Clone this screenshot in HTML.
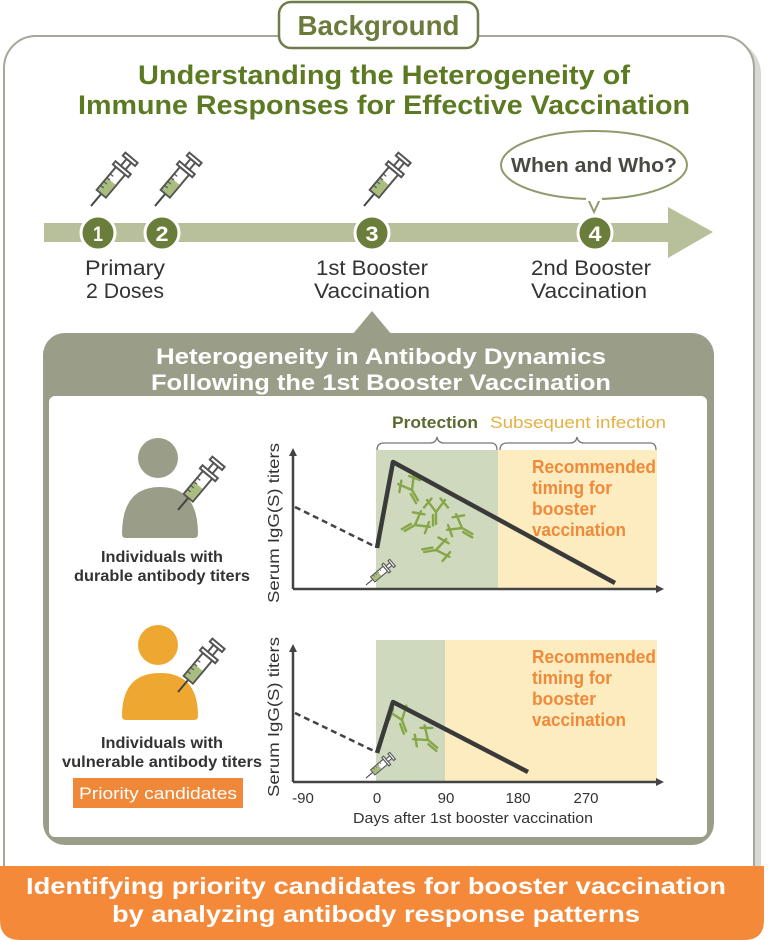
<!DOCTYPE html>
<html><head><meta charset="utf-8"><style>
html,body{margin:0;padding:0;background:#fff;}
svg{display:block;}
text{font-family:"Liberation Sans Narrow","Liberation Sans",sans-serif;}
</style></head><body>
<svg width="768" height="940" viewBox="0 0 768 940" xmlns="http://www.w3.org/2000/svg">
<defs>
  <g id="syr">
    <line x1="0" y1="0" x2="16" y2="0" stroke="#444" stroke-width="2"/>
    <rect x="16" y="-6" width="30" height="12" fill="#fff" stroke="#555" stroke-width="2"/>
    <rect x="17" y="-5" width="15" height="10" fill="#a9bd7e"/>
    <line x1="22" y1="-6" x2="22" y2="-2" stroke="#555" stroke-width="1.2"/>
    <line x1="27" y1="-6" x2="27" y2="-2" stroke="#555" stroke-width="1.2"/>
    <line x1="32" y1="-6" x2="32" y2="-2" stroke="#555" stroke-width="1.2"/>
    <line x1="37" y1="-6" x2="37" y2="-2" stroke="#555" stroke-width="1.2"/>
    <rect x="46" y="-10" width="4" height="20" fill="#fff" stroke="#555" stroke-width="2"/>
    <rect x="50" y="-3" width="9" height="6" fill="#fff" stroke="#555" stroke-width="2"/>
    <rect x="59" y="-8" width="4" height="16" fill="#fff" stroke="#555" stroke-width="2"/>
  </g>
  <g id="ab" fill="none" stroke="#86a648" stroke-width="1.6" stroke-linecap="round">
    <path d="M0 8 L0 0 L-6 -8 M0 0 L6 -8 M-3 -9 L-8 -3 M3 -9 L8 -3 M-2 9 L-2 2"/>
  </g>
</defs>

<rect x="9" y="40" width="752" height="895" rx="34" fill="#d8d8d4"/>
<rect x="4" y="36" width="750" height="895" rx="32" fill="#fff" stroke="#a4a89a" stroke-width="2"/>

<rect x="279" y="2" width="199" height="46" rx="12" fill="#fff" stroke="#6f7d4a" stroke-width="2.5"/>
<text x="378.5" y="35" text-anchor="middle" font-size="28" font-weight="bold" fill="#6b7b3c" textLength="162" lengthAdjust="spacingAndGlyphs">Background</text>

<text x="384" y="84" text-anchor="middle" font-size="27" font-weight="bold" fill="#5b7a22" textLength="492" lengthAdjust="spacingAndGlyphs">Understanding the Heterogeneity of</text>
<text x="384" y="114" text-anchor="middle" font-size="27" font-weight="bold" fill="#5b7a22" textLength="612" lengthAdjust="spacingAndGlyphs">Immune Responses for Effective Vaccination</text>

<rect x="44" y="223" width="630" height="19" fill="#b7bf9b"/>
<polygon points="668,207 713,232 668,258" fill="#b7bf9b"/>

<use href="#syr" transform="translate(91,206) rotate(-50)"/>
<use href="#syr" transform="translate(155,206) rotate(-50)"/>
<use href="#syr" transform="translate(364,206) rotate(-50)"/>

<path d="M588 199 L594 212 L600 199" fill="#fff" stroke="#8e9a6c" stroke-width="2"/>
<ellipse cx="594" cy="165" rx="93" ry="34" fill="#fff" stroke="#8e9a6c" stroke-width="2"/>
<rect x="586" y="195" width="16" height="6" fill="#fff"/>
<text x="594" y="172" text-anchor="middle" font-size="20" font-weight="bold" fill="#4a4a42" textLength="166" lengthAdjust="spacingAndGlyphs">When and Who?</text>

<g font-size="21" font-weight="bold" fill="#fff" text-anchor="middle">
  <circle cx="98" cy="233" r="17" fill="#6b7d3a" stroke="#fff" stroke-width="3"/><text x="98" y="241" textLength="10" lengthAdjust="spacingAndGlyphs">1</text>
  <circle cx="162" cy="233" r="17" fill="#6b7d3a" stroke="#fff" stroke-width="3"/><text x="162" y="241" textLength="13" lengthAdjust="spacingAndGlyphs">2</text>
  <circle cx="372" cy="233" r="17" fill="#6b7d3a" stroke="#fff" stroke-width="3"/><text x="372" y="241" textLength="13" lengthAdjust="spacingAndGlyphs">3</text>
  <circle cx="595" cy="233" r="17" fill="#6b7d3a" stroke="#fff" stroke-width="3"/><text x="595" y="241" textLength="13" lengthAdjust="spacingAndGlyphs">4</text>
</g>

<g font-size="21" fill="#333" text-anchor="middle">
  <text x="125" y="275" textLength="80" lengthAdjust="spacingAndGlyphs">Primary</text>
  <text x="125" y="298" textLength="78" lengthAdjust="spacingAndGlyphs">2 Doses</text>
  <text x="372" y="275" textLength="112" lengthAdjust="spacingAndGlyphs">1st Booster</text>
  <text x="372" y="298" textLength="116" lengthAdjust="spacingAndGlyphs">Vaccination</text>
  <text x="591" y="275" textLength="120" lengthAdjust="spacingAndGlyphs">2nd Booster</text>
  <text x="589" y="298" textLength="116" lengthAdjust="spacingAndGlyphs">Vaccination</text>
</g>

<polygon points="352,335 372,311 392,335" fill="#9a9e88"/>
<rect x="43" y="333" width="671" height="512" rx="22" fill="#9a9e88"/>
<rect x="49" y="396" width="658" height="441" rx="6" fill="#fff"/>
<text x="381" y="364" text-anchor="middle" font-size="22" font-weight="bold" fill="#fff" textLength="450" lengthAdjust="spacingAndGlyphs">Heterogeneity in Antibody Dynamics</text>
<text x="381" y="390" text-anchor="middle" font-size="22" font-weight="bold" fill="#fff" textLength="460" lengthAdjust="spacingAndGlyphs">Following the 1st Booster Vaccination</text>

<circle cx="158" cy="458" r="20" fill="#9a9e88"/>
<path d="M122 534 Q122 487 160 487 Q198 487 198 534 Q198 538 194 538 L126 538 Q122 538 122 534Z" fill="#9a9e88"/>
<use href="#syr" transform="translate(178,510) rotate(-50)"/>
<text x="162" y="562" text-anchor="middle" font-size="16" font-weight="bold" fill="#333" textLength="122" lengthAdjust="spacingAndGlyphs">Individuals with</text>
<text x="162" y="581" text-anchor="middle" font-size="16" font-weight="bold" fill="#333" textLength="176" lengthAdjust="spacingAndGlyphs">durable antibody titers</text>

<circle cx="158" cy="645" r="20" fill="#eea832"/>
<path d="M122 716 Q122 673 160 673 Q198 673 198 716 Q198 720 194 720 L126 720 Q122 720 122 716Z" fill="#eea832"/>
<use href="#syr" transform="translate(178,692) rotate(-50)"/>
<text x="162" y="748" text-anchor="middle" font-size="16" font-weight="bold" fill="#333" textLength="122" lengthAdjust="spacingAndGlyphs">Individuals with</text>
<text x="162" y="767" text-anchor="middle" font-size="16" font-weight="bold" fill="#333" textLength="200" lengthAdjust="spacingAndGlyphs">vulnerable antibody titers</text>
<rect x="73" y="778" width="170" height="30" fill="#f0883a"/>
<text x="158" y="799" text-anchor="middle" font-size="17" fill="#fff" textLength="158" lengthAdjust="spacingAndGlyphs">Priority candidates</text>

<rect x="376" y="450" width="122" height="139" fill="#cfd9bd"/>
<rect x="498" y="450" width="159" height="139" fill="#fdecbf"/>
<text x="435" y="428" text-anchor="middle" font-size="17" font-weight="bold" fill="#5a6a30" textLength="86" lengthAdjust="spacingAndGlyphs">Protection</text>
<text x="578" y="428" text-anchor="middle" font-size="17" fill="#e6b042" textLength="176" lengthAdjust="spacingAndGlyphs">Subsequent infection</text>
<path d="M377 450 Q377 443 384 443 L430 443 Q436 443 437 437 Q438 443 444 443 L491 443 Q497 443 497 450" fill="none" stroke="#777" stroke-width="1.3"/>
<path d="M500 450 Q500 443 507 443 L570 443 Q576 443 577 437 Q578 443 584 443 L650 443 Q656 443 656 450" fill="none" stroke="#777" stroke-width="1.3"/>
<g transform="translate(412,490) rotate(-30) scale(1.5)"><use href="#ab"/></g>
<g transform="translate(436,512) scale(1.5)"><use href="#ab"/></g>
<g transform="translate(415,525) rotate(60) scale(1.5)"><use href="#ab"/></g>
<g transform="translate(462,528) rotate(-60) scale(1.5)"><use href="#ab"/></g>
<g transform="translate(436,550) rotate(80) scale(1.5)"><use href="#ab"/></g>
<line x1="293" y1="589" x2="656" y2="589" stroke="#444" stroke-width="2.5"/>
<polygon points="656,585 664,589 656,593" fill="#444"/>
<line x1="293" y1="589" x2="293" y2="456" stroke="#444" stroke-width="2.5"/>
<polygon points="289,456 293,448 297,456" fill="#444"/>
<line x1="295" y1="507" x2="376" y2="547" stroke="#444" stroke-width="2.5" stroke-dasharray="6,4"/>
<polyline points="377,548 393,462 615,583" fill="none" stroke="#3a3a3a" stroke-width="4.5" stroke-linejoin="round"/>
<use href="#syr" transform="translate(366,585) rotate(-40) scale(0.55)"/>
<g font-size="18" font-weight="bold" fill="#f08a3a">
  <text x="532" y="473" textLength="124" lengthAdjust="spacingAndGlyphs">Recommended</text>
  <text x="532" y="494" textLength="80" lengthAdjust="spacingAndGlyphs">timing for</text>
  <text x="532" y="515" textLength="64" lengthAdjust="spacingAndGlyphs">booster</text>
  <text x="532" y="536" textLength="94" lengthAdjust="spacingAndGlyphs">vaccination</text>
</g>
<text transform="translate(279,523) rotate(-90)" text-anchor="middle" font-size="16" fill="#333" textLength="160" lengthAdjust="spacingAndGlyphs">Serum IgG(S) titers</text>

<rect x="376" y="640" width="69" height="142" fill="#cfd9bd"/>
<rect x="445" y="640" width="212" height="142" fill="#fdecbf"/>
<g transform="translate(402,720) rotate(-20) scale(1.5)"><use href="#ab"/></g>
<g transform="translate(428,740) rotate(-50) scale(1.5)"><use href="#ab"/></g>
<line x1="293" y1="782" x2="656" y2="782" stroke="#444" stroke-width="2.5"/>
<polygon points="656,778 664,782 656,786" fill="#444"/>
<line x1="293" y1="782" x2="293" y2="652" stroke="#444" stroke-width="2.5"/>
<polygon points="289,652 293,644 297,652" fill="#444"/>
<line x1="295" y1="713" x2="376" y2="752" stroke="#444" stroke-width="2.5" stroke-dasharray="6,4"/>
<polyline points="377,753 393,702 528,772" fill="none" stroke="#3a3a3a" stroke-width="4.5" stroke-linejoin="round"/>
<use href="#syr" transform="translate(366,778) rotate(-40) scale(0.55)"/>
<g font-size="18" font-weight="bold" fill="#f08a3a">
  <text x="532" y="663" textLength="124" lengthAdjust="spacingAndGlyphs">Recommended</text>
  <text x="532" y="684" textLength="80" lengthAdjust="spacingAndGlyphs">timing for</text>
  <text x="532" y="705" textLength="64" lengthAdjust="spacingAndGlyphs">booster</text>
  <text x="532" y="726" textLength="94" lengthAdjust="spacingAndGlyphs">vaccination</text>
</g>
<text transform="translate(279,717) rotate(-90)" text-anchor="middle" font-size="16" fill="#333" textLength="160" lengthAdjust="spacingAndGlyphs">Serum IgG(S) titers</text>
<g font-size="15" fill="#333" text-anchor="middle">
  <text x="303" y="803">-90</text>
  <text x="377" y="803">0</text>
  <text x="446" y="803">90</text>
  <text x="518" y="803">180</text>
  <text x="586" y="803">270</text>
</g>
<text x="473" y="823" text-anchor="middle" font-size="15" fill="#333" textLength="240" lengthAdjust="spacingAndGlyphs">Days after 1st booster vaccination</text>

<path d="M0 866 L764 866 L764 920 Q764 940 744 940 L20 940 Q0 940 0 920Z" fill="#f5893a"/>
<text x="376" y="894" text-anchor="middle" font-size="23" font-weight="bold" fill="#fff" textLength="700" lengthAdjust="spacingAndGlyphs">Identifying priority candidates for booster vaccination</text>
<text x="376" y="922" text-anchor="middle" font-size="23" font-weight="bold" fill="#fff" textLength="528" lengthAdjust="spacingAndGlyphs">by analyzing antibody response patterns</text>
</svg>
</body></html>
